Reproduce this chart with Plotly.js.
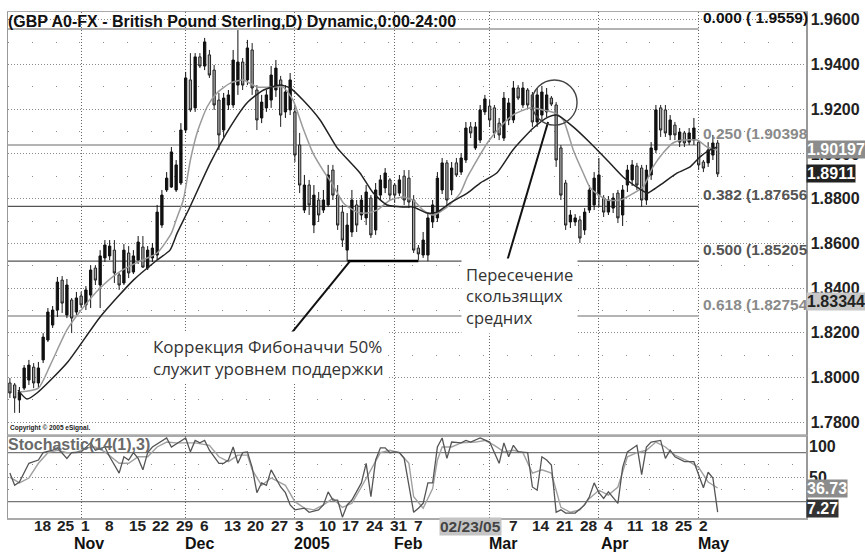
<!DOCTYPE html>
<html><head><meta charset="utf-8">
<script src="https://cdn.plot.ly/plotly-3.0.1.min.js"></script>
<style>html,body{margin:0;padding:0;background:#fff}#c{width:865px;height:553px}</style>
</head><body><div id="c"></div>
<script>
// Daily GBP candles, 11 Oct 2004 (index 0) .. 6 May 2005 (index 149), weekdays only
const open = [
1.7976,1.7967,1.7900,1.7953,1.7989,1.8047,1.7976,1.8079,1.8168,1.8235,
1.8302,1.8436,1.8280,1.8347,1.8293,1.8365,1.8325,1.8369,1.8490,1.8414,
1.8535,1.8544,1.8570,1.8459,1.8423,1.8557,1.8472,1.8526,1.8584,1.8490,
1.8535,1.8548,1.8682,1.8839,1.8852,1.8839,1.8870,1.9107,1.9331,1.9206,
1.9434,1.9393,1.9443,1.9375,1.9241,1.9107,1.9219,1.9219,1.9308,1.9411,
1.9331,1.9465,1.9286,1.9161,1.9206,1.9241,1.9286,1.9331,1.9188,1.9197,
1.9188,1.9040,1.8749,1.8861,1.8682,1.8794,1.8749,1.8772,1.8928,1.8816,
1.8740,1.8570,1.8651,1.8772,1.8727,1.8714,1.8803,1.8660,1.8816,1.8848,
1.8884,1.8861,1.8825,1.8901,1.8892,1.8794,1.8579,1.8548,1.8548,1.8696,
1.8714,1.8839,1.8960,1.8839,1.8960,1.8919,1.8973,1.9121,1.9027,1.9062,
1.9188,1.9214,1.9206,1.9138,1.9071,1.9152,1.9152,1.9295,1.9219,1.9286,
1.9264,1.9143,1.9174,1.9188,1.9250,1.9219,1.9027,1.8870,1.8696,1.8696,
1.8705,1.8660,1.8749,1.8772,1.8816,1.8803,1.8740,1.8758,1.8825,1.8727,
1.8861,1.8884,1.8946,1.8937,1.8794,1.8906,1.9018,1.9206,1.9197,1.9085,
1.9129,1.9053,1.9094,1.9053,1.9062,1.9053,1.8964,1.8960,1.8995,1.9049];
const high = [
1.7998,1.7976,1.7958,1.8056,1.8079,1.8065,1.8070,1.8199,1.8311,1.8320,
1.8450,1.8454,1.8441,1.8356,1.8383,1.8383,1.8409,1.8503,1.8503,1.8570,
1.8615,1.8615,1.8615,1.8468,1.8597,1.8588,1.8570,1.8633,1.8633,1.8588,
1.8602,1.8772,1.8839,1.8919,1.9031,1.8973,1.9138,1.9367,1.9451,1.9451,
1.9451,1.9519,1.9465,1.9398,1.9273,1.9273,1.9286,1.9465,1.9554,1.9429,
1.9510,1.9496,1.9308,1.9264,1.9286,1.9393,1.9420,1.9349,1.9308,1.9362,
1.9219,1.9094,1.8906,1.8884,1.8861,1.8830,1.8839,1.8951,1.8951,1.8861,
1.8772,1.8736,1.8839,1.8794,1.8816,1.8861,1.8816,1.8870,1.8906,1.8937,
1.8892,1.8870,1.8906,1.8928,1.8928,1.8816,1.8593,1.8651,1.8740,1.8794,
1.8919,1.8982,1.8973,1.8964,1.8982,1.9004,1.9143,1.9143,1.9143,1.9219,
1.9264,1.9241,1.9219,1.9161,1.9277,1.9250,1.9326,1.9308,1.9322,1.9295,
1.9277,1.9295,1.9304,1.9295,1.9259,1.9232,1.9040,1.8884,1.8749,1.8731,
1.8723,1.8758,1.8861,1.8919,1.8982,1.8816,1.8812,1.8825,1.8839,1.8861,
1.8951,1.8973,1.8960,1.8951,1.8951,1.9053,1.9219,1.9219,1.9219,1.9174,
1.9143,1.9116,1.9103,1.9116,1.9161,1.9062,1.8973,1.9053,1.9085,1.9062];
const low = [
1.7909,1.7842,1.7842,1.7944,1.7967,1.7953,1.7953,1.8065,1.8159,1.8222,
1.8271,1.8289,1.8266,1.8199,1.8280,1.8311,1.8302,1.8311,1.8414,1.8311,
1.8517,1.8526,1.8423,1.8392,1.8414,1.8445,1.8463,1.8508,1.8490,1.8481,
1.8517,1.8526,1.8669,1.8830,1.8848,1.8830,1.8861,1.9094,1.9188,1.9188,
1.9384,1.9375,1.9340,1.9197,1.9018,1.9076,1.9197,1.9206,1.9264,1.9286,
1.9308,1.9264,1.9107,1.9138,1.9188,1.9206,1.9255,1.9121,1.9161,1.9174,
1.8964,1.8825,1.8736,1.8727,1.8646,1.8696,1.8736,1.8763,1.8794,1.8660,
1.8584,1.8521,1.8629,1.8651,1.8705,1.8682,1.8624,1.8638,1.8794,1.8825,
1.8794,1.8781,1.8812,1.8772,1.8758,1.8557,1.8526,1.8535,1.8521,1.8669,
1.8696,1.8821,1.8763,1.8816,1.8897,1.8906,1.8960,1.9071,1.9018,1.9049,
1.9174,1.9121,1.9071,1.9062,1.9058,1.9129,1.9138,1.9241,1.9206,1.9206,
1.9121,1.9121,1.9152,1.9165,1.9214,1.8942,1.8794,1.8660,1.8669,1.8678,
1.8602,1.8638,1.8736,1.8749,1.8763,1.8718,1.8727,1.8736,1.8691,1.8678,
1.8830,1.8857,1.8839,1.8763,1.8772,1.8884,1.9004,1.9076,1.9076,1.9062,
1.9062,1.9031,1.9031,1.9040,1.9040,1.8928,1.8919,1.8942,1.8973,1.8897];
const close = [
1.7931,1.7909,1.7935,1.8043,1.8056,1.7976,1.8043,1.8181,1.8293,1.8302,
1.8427,1.8333,1.8414,1.8266,1.8356,1.8325,1.8392,1.8481,1.8436,1.8544,
1.8593,1.8588,1.8468,1.8414,1.8570,1.8468,1.8544,1.8606,1.8494,1.8570,
1.8579,1.8740,1.8816,1.8892,1.9009,1.8951,1.9107,1.9340,1.9197,1.9434,
1.9393,1.9501,1.9353,1.9219,1.9085,1.9250,1.9264,1.9420,1.9411,1.9308,
1.9474,1.9295,1.9152,1.9232,1.9264,1.9353,1.9384,1.9174,1.9277,1.9331,
1.8995,1.8861,1.8861,1.8772,1.8816,1.8727,1.8794,1.8906,1.8816,1.8682,
1.8615,1.8682,1.8794,1.8682,1.8794,1.8830,1.8638,1.8839,1.8884,1.8915,
1.8816,1.8816,1.8884,1.8794,1.8785,1.8570,1.8553,1.8615,1.8714,1.8772,
1.8892,1.8960,1.8794,1.8937,1.8906,1.8982,1.9116,1.9094,1.9121,1.9197,
1.9246,1.9152,1.9094,1.9085,1.9250,1.9228,1.9295,1.9250,1.9295,1.9219,
1.9143,1.9264,1.9277,1.9264,1.9223,1.8973,1.8816,1.8682,1.8727,1.8714,
1.8624,1.8740,1.8839,1.8892,1.8906,1.8740,1.8794,1.8803,1.8714,1.8839,
1.8928,1.8951,1.8861,1.8794,1.8928,1.9027,1.9197,1.9107,1.9094,1.9152,
1.9085,1.9098,1.9049,1.9094,1.9116,1.8951,1.8937,1.9018,1.9049,1.8911];

// moving averages (day index, price)
const maFastX = [2,6,8.5,12,15,19,23,27,31,34,35,36.5,38,39.4,41.5,43.6,46.4,49.1,52.1,54.8,57.5,59.6,61.7,63.8,65.9,68,70.2,73.1,75.2,77.3,80.1,82.8,84.9,87,89.1,92.1,94.8,96.3,97.5,100.5,103.2,105.9,109.5,112.3,114.8,116.5,118.6,120.7,122.2,125.7,128.5,130.6,133.3,135.4,137.5,139.6,141.7,144.7,146.8,148.9];
const maFastY = [1.7935,1.7953,1.8056,1.8213,1.8302,1.8401,1.8472,1.8517,1.8557,1.8646,1.8705,1.8794,1.8973,1.9094,1.9210,1.9273,1.9317,1.9331,1.9299,1.9299,1.9299,1.9241,1.9116,1.9004,1.8928,1.8861,1.8781,1.8740,1.8736,1.8749,1.8794,1.8807,1.8794,1.8749,1.8727,1.8763,1.8825,1.8897,1.8942,1.9049,1.9121,1.9174,1.9206,1.9197,1.9183,1.9152,1.9018,1.8915,1.8848,1.8794,1.8794,1.8816,1.8852,1.8942,1.9004,1.9049,1.9062,1.9062,1.9031,1.9018];
const maSlowX = [1.7,3.6,5.7,12,19,26,31,33.7,35.2,37.9,42.2,46.4,49.9,53.4,56.9,59,61.7,65.3,68.9,71.6,73.7,76.5,79.4,82.8,84.9,87.8,89.9,92.7,96.3,99,102.5,105.9,110.2,113.3,115.2,118.6,122.2,125.7,129.1,132,134.2,135.4,137.5,140.5,143.2,145.3,147.4,148.9];
const maSlowY = [1.7944,1.7904,1.7931,1.8065,1.8271,1.8436,1.8526,1.8570,1.8646,1.8763,1.8960,1.9121,1.9228,1.9286,1.9308,1.9295,1.9241,1.9152,1.9027,1.8964,1.8915,1.8825,1.8772,1.8763,1.8763,1.8736,1.8740,1.8781,1.8825,1.8870,1.8915,1.9018,1.9116,1.9165,1.9174,1.9121,1.9049,1.8973,1.8897,1.8852,1.8825,1.8839,1.8870,1.8915,1.8942,1.8987,1.9018,1.9031];

// Stochastic(14(1),3): %K and %D
const stoKX = [0,1,2,3,4,6,7,9,10,12,13,15,16,17,18,20,21,23,24,25,26,27,28,29,30,32,33,34,36,37,38,39,40,41,42,44,45,46,47,48,49,50,51,52,53,54,55,56,57,58,59,60,62,63,65,66,67,68,69,70,71,72,74,75,76,77,78,79,80,81,82,83,85,86,87,88,89,90,91,92,93,95,96,97,99,101,103,104,105,106,107,109,110,111,112,113,114,115,116,117,119,121,122,123,124,125,126,128,129,130,132,133,134,135,137,138,139,140,142,144,145,146,147,148,149];
const stoKY = [55,40,44,55,67,71,80,83,86,73,80,81,87,92,83,87,75,55,75,71,80,73,59,80,87,95,98,87,95,98,81,95,92,95,83,67,67,71,87,67,80,81,62,31,43,40,59,49,38,31,16,10,12,7,10,16,32,22,22,1,16,22,43,67,26,71,86,86,80,81,80,73,7,12,18,43,43,87,98,73,93,92,95,93,98,93,67,92,75,89,81,80,38,34,75,71,65,7,10,6,6,16,26,43,31,24,32,18,62,81,89,53,87,93,95,73,83,75,69,69,53,37,56,49,7.27];
const stoDX = [0,2,4,6,8,10,12,14,16,18,20,23,25,27,29,31,33,35,37,39,42,44,46,48,50,51,53,55,58,60,62,64,66,68,70,72,74,76,78,80,82,84,85,87,89,90,91,93,95,98,100,102,104,106,108,110,112,114,116,118,120,122,124,126,128,130,132,134,136,138,140,143,145,147,149];
const stoDY = [50,43,49,67,80,83,80,80,86,87,81,67,67,75,75,87,93,92,92,92,89,75,69,77,77,59,40,49,40,20,12,10,16,24,13,18,38,59,80,83,80,67,26,12,36,71,87,87,92,93,95,89,81,83,80,55,59,55,13,7,10,24,34,28,38,75,80,83,93,87,77,69,62,44,36.73];

// axis labels
const priceTicks = [1.78,1.80,1.82,1.84,1.86,1.88,1.90,1.92,1.94,1.96];
const halfLevels = [1.79,1.81,1.83,1.85,1.87,1.89,1.91,1.93,1.95];
const monthStart = [15,37,60,81,101,124,145];
const weekIdx = [5,10,15,20,25,30,35,40,45,50,55,60,65,70,75,80,85,105,110,115,120,125,130,135,140,145];
const weekTxt = ['18','25','1','8','15','22','29','6','13','20','27','3','10','17','24','31','7','7','14','21','28','4','11','18','25','2'];
const monthPos = [13.7,37,60,81,101,124.7,145];
const monthTxt = ['Nov','Dec','2005','Feb','Mar','Apr','May'];
const cursorIdx = 97, cursorTxt = '02/23/05';

// Fibonacci retracement levels
const fibRatio = ['0.000','0.250','0.382','0.500','0.618'];
const fibPrice = [1.9559,1.90398,1.87656,1.85205,1.82754];
const fibLabel = ['0.000 ( 1.9559)','0.250 (1.90398','0.382 (1.87656','0.500 (1.85205','0.618 (1.82754'];
const fibColor = ['#9a9a9a','#b4b4b4','#555555','#555555','#b4b4b4'];
const fibWidth = [1.5,2,1.2,1.2,2];
const fibText = ['#111111','#8a8a8a','#555555','#555555','#8a8a8a'];

const day = open.map((_, i) => i);
const F = 'Liberation Sans, Arial, sans-serif';

const traces = [
  {type:'candlestick', x:day, open:open, high:high, low:low, close:close,
   increasing:{line:{color:'#111',width:1}, fillcolor:'#111'},
   decreasing:{line:{color:'#222',width:1}, fillcolor:'#a6a6a6'},
   whiskerwidth:0, hoverinfo:'skip', xaxis:'x', yaxis:'y'},
  {type:'scatter', mode:'lines', x:maFastX, y:maFastY, line:{color:'#9a9a9a',width:1.5,shape:'spline',smoothing:0.6}, xaxis:'x', yaxis:'y', hoverinfo:'skip'},
  {type:'scatter', mode:'lines', x:maSlowX, y:maSlowY, line:{color:'#222',width:1.5,shape:'spline',smoothing:0.6}, xaxis:'x', yaxis:'y', hoverinfo:'skip'},
  {type:'scatter', mode:'lines', x:stoDX, y:stoDY, line:{color:'#a0a0a0',width:1.4}, xaxis:'x', yaxis:'y2', hoverinfo:'skip'},
  {type:'scatter', mode:'lines', x:stoKX, y:stoKY, line:{color:'#555',width:1.3}, xaxis:'x', yaxis:'y2', hoverinfo:'skip'}
];

const shapes = [];
fibPrice.forEach((p, k) => shapes.push({type:'line', xref:'x', yref:'y', x0:-0.4, x1:145, y0:p, y1:p,
  line:{color:fibColor[k], width:fibWidth[k]}, layer:'between'}));
// stochastic 80 / 20 lines
[80,20].forEach(v => shapes.push({type:'line', xref:'paper', yref:'y2', x0:0, x1:1, y0:v, y1:v, line:{color:'#777',width:1.3}, layer:'between'}));
// support bracket and pointer lines
shapes.push({type:'line', xref:'x', yref:'y', x0:71.1, x1:86, y0:1.8521, y1:1.8521, line:{color:'#000',width:2.5}});
shapes.push({type:'line', xref:'x', yref:'y', x0:71.6, x1:58.8, y0:1.8521, y1:1.8186, line:{color:'#111',width:2}});
shapes.push({type:'line', xref:'x', yref:'y', x0:104.3, x1:113.3, y0:1.8494, y1:1.9143, line:{color:'#111',width:2}});
shapes.push({type:'circle', xref:'x', yref:'y', x0:109.9, x1:119.4, y0:1.9129, y1:1.9331, line:{color:'#444',width:1.4}});
// panel separator
shapes.push({type:'line', xref:'paper', yref:'paper', x0:0, x1:1, y0:0.164, y1:0.164, line:{color:'#aaa',width:1.5}});

const ann = [];
ann.push({xref:'paper', yref:'paper', x:0, y:1, xanchor:'left', yanchor:'top', yshift:1, xshift:-2, showarrow:false,
  text:'<b>(GBP A0-FX - British Pound Sterling,D) Dynamic,0:00-24:00</b>', font:{family:F,size:16,color:'#111'}});
fibPrice.forEach((p, k) => ann.push({xref:'x', yref:'y', x:145.4, y:p, xanchor:'left', yanchor:'bottom', yshift:1, showarrow:false,
  text:'<b>'+fibLabel[k]+'</b>', font:{family:F,size:15.5,color:fibText[k]}}));
weekIdx.forEach((d, k) => ann.push({xref:'x', yref:'paper', x:d, y:0, xanchor:'left', yanchor:'middle', yshift:-7, xshift:-2, showarrow:false,
  text:'<b>'+weekTxt[k]+'</b>', font:{family:F,size:15.5,color:'#222'}}));
ann.push({xref:'x', yref:'paper', x:cursorIdx, y:0, xanchor:'center', yanchor:'middle', yshift:-8, showarrow:false,
  text:'<b>'+cursorTxt+'</b>', font:{family:F,size:15.5,color:'#444'}, bgcolor:'#c4c4c4', borderpad:0});
monthPos.forEach((d, k) => ann.push({xref:'x', yref:'paper', x:d, y:0, xanchor:'left', yanchor:'middle', yshift:-25, xshift:-2, showarrow:false,
  text:'<b>'+monthTxt[k]+'</b>', font:{family:F,size:16,color:'#111'}, borderpad:0}));
ann.push({xref:'x', yref:'y', x:29.3, y:1.8092, xanchor:'left', yanchor:'middle', align:'left', showarrow:false, bgcolor:'#fff', borderpad:3,
  text:'Коррекция Фибоначчи 50%<br>служит уровнем поддержки', font:{family:'Open Sans, sans-serif',size:17,color:'#333'}});
ann.push({xref:'x', yref:'y', x:95.0, y:1.8365, xanchor:'left', yanchor:'middle', align:'left', showarrow:false, bgcolor:'#fff', borderpad:4,
  text:'Пересечение<br>скользящих<br>средних', font:{family:'Open Sans, sans-serif',size:16.5,color:'#333'}});
ann.push({xref:'paper', yref:'paper', x:0, y:0.164, xanchor:'left', yanchor:'bottom', yshift:1, showarrow:false,
  text:'<b>Copyright © 2005 eSignal.</b>', font:{family:F,size:6.5,color:'#222'}});
ann.push({xref:'paper', yref:'y2', x:0, y:90, xanchor:'left', yanchor:'middle', xshift:-2, showarrow:false,
  text:'<b>Stochastic(14(1),3)</b>', font:{family:F,size:16,color:'#6a6a6a'}});
// right-side value labels
ann.push({xref:'paper', yref:'y2', x:1, y:87, xanchor:'left', yanchor:'middle', xshift:1, showarrow:false,
  text:'<b>100</b>', font:{family:F,size:16,color:'#222'}});
ann.push({xref:'paper', yref:'y2', x:1, y:49, xanchor:'left', yanchor:'middle', xshift:1, showarrow:false,
  text:'<b>50</b>', font:{family:F,size:16,color:'#222'}});
ann.push({xref:'paper', yref:'y', x:1, y:1.90197, xanchor:'left', yanchor:'middle', showarrow:false, bgcolor:'#8c8c8c', borderpad:0,
  text:'<b>1.90197</b>', font:{family:F,size:16,color:'#fff'}});
ann.push({xref:'paper', yref:'y', x:1, y:1.8911, xanchor:'left', yanchor:'middle', showarrow:false, bgcolor:'#222', borderpad:0,
  text:'<b>1.8911</b>', font:{family:F,size:16,color:'#fff'}});
ann.push({xref:'paper', yref:'y', x:1, y:1.8342, xanchor:'left', yanchor:'middle', showarrow:false, bgcolor:'#c8c8c8', borderpad:0,
  text:'<b>1.83344</b>', font:{family:F,size:16,color:'#222'}});
ann.push({xref:'paper', yref:'y2', x:1, y:36.73, xanchor:'left', yanchor:'middle', showarrow:false, bgcolor:'#8c8c8c', borderpad:0,
  text:'<b>36.73</b>', font:{family:F,size:16,color:'#fff'}});
ann.push({xref:'paper', yref:'y2', x:1, y:12, xanchor:'left', yanchor:'middle', showarrow:false, bgcolor:'#333', borderpad:0,
  text:'<b>7.27</b>', font:{family:F,size:16,color:'#fff'}});

const layout = {
  width:865, height:553, margin:{l:8, r:59, t:12, b:35},
  paper_bgcolor:'#fff', plot_bgcolor:'#fff', showlegend:false,
  xaxis:{range:[-0.4,167.6], tickmode:'array', tickvals:monthStart, showticklabels:false, ticks:'',
    showgrid:true, gridcolor:'#666', griddash:'1px,2px', gridwidth:1, zeroline:false,
    showline:true, linecolor:'#aaa', linewidth:1.5, mirror:'all', anchor:'y2', rangeslider:{visible:false}, fixedrange:true},
  yaxis:{domain:[0.164,1], range:[1.77432,1.96348], side:'right', tickmode:'array', tickvals:priceTicks, tickformat:'.4f',
    tickfont:{family:F,size:16,color:'#222',weight:'bold'}, ticks:'', showgrid:true, gridcolor:'#8a8a8a', griddash:'1px,2px', gridwidth:1,
    minor:{tickvals:halfLevels, showgrid:true, gridcolor:'#8a8a8a', griddash:'1px,22.75px', gridwidth:1},
    zeroline:false, showline:true, linecolor:'#999', linewidth:1.5, mirror:true, anchor:'x'},
  yaxis2:{domain:[0,0.162], range:[0,100.4], side:'right', tickmode:'array', tickvals:[50], showticklabels:false, ticks:'',
    showgrid:true, gridcolor:'#8a8a8a', griddash:'1px,2px',
    minor:{tickvals:[35,65], showgrid:true, gridcolor:'#8a8a8a', griddash:'1px,22.75px'},
    zeroline:false, showline:true, linecolor:'#999', linewidth:1.5, mirror:true, anchor:'x'},
  shapes:shapes, annotations:ann
};
Plotly.newPlot('c', traces, layout, {staticPlot:true, displayModeBar:false});
</script></body></html>
